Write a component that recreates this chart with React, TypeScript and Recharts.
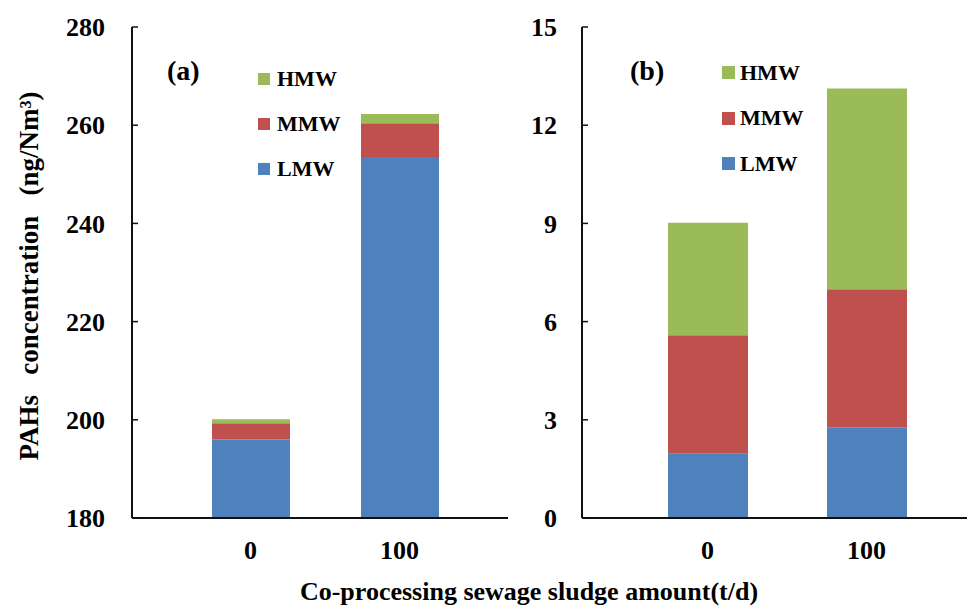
import React from 'react';
import { BarChart, Bar, XAxis, YAxis, Legend } from 'recharts';

const categories = ['0', '100'];
const lmwA = [196.0, 253.5];
const mmwA = [3.3, 6.9];
const hmwA = [0.8, 1.9];
const lmwB = [1.96, 2.77];
const mmwB = [3.62, 4.22];
const hmwB = [3.44, 6.13];
const ticksA = [180, 200, 220, 240, 260, 280];
const ticksB = [0, 3, 6, 9, 12, 15];
const seriesNames = ['LMW', 'MMW', 'HMW'];
const legendOrder = ['HMW', 'MMW', 'LMW'];
const colors = ['#4F81BD', '#C0504D', '#9BBB59'];

const FONT = "'Times New Roman', 'Liberation Serif', Tinos, 'DejaVu Serif', serif";

const dataA = categories.map((c, i) => ({ cat: c, LMW: lmwA[i], MMW: mmwA[i], HMW: hmwA[i] }));
const dataB = categories.map((c, i) => ({ cat: c, LMW: lmwB[i], MMW: mmwB[i], HMW: hmwB[i] }));

const tickStyle = { fontSize: 26, fontWeight: 'bold', fill: '#000', fontFamily: FONT };
const axisLineStyle = { stroke: '#111', strokeWidth: 2 };

const makeLegend = (rowH: number, sq: number, gap: number) => (props: any) => {
  const payload = props.payload || [];
  const items = legendOrder.map((n) => payload.find((p: any) => p.value === n)).filter(Boolean);
  return (
    <div>
      {items.map((it: any) => (
        <div key={it.value} style={{ height: rowH, display: 'flex', alignItems: 'center' }}>
          <span style={{ width: sq, height: sq, background: it.color, marginRight: gap, display: 'inline-block' }} />
          <span style={{ fontFamily: FONT, fontWeight: 'bold', fontSize: 22, color: '#000', lineHeight: '24px' }}>{it.value}</span>
        </div>
      ))}
    </div>
  );
};

function Panel(props: {
  data: any[];
  width: number;
  margin: any;
  yWidth: number;
  domain: [number, number];
  ticks: number[];
  tickMargin: number;
  padding: { left: number; right: number };
  barSize: number;
  legendPos: { left: number; top: number };
  legendRow: number;
  legendSq: number;
  legendGap: number;
  yLabel?: boolean;
}) {
  return (
    <BarChart width={props.width} height={608} data={props.data} margin={props.margin} barCategoryGap={0}>
      <XAxis
        dataKey="cat"
        xAxisId="main"
        height={90}
        padding={props.padding}
        tickLine={false}
        tickSize={0}
        tickMargin={23}
        axisLine={axisLineStyle}
        tick={tickStyle}
        interval={0}
      />
      <XAxis dataKey="cat" xAxisId="top" orientation="top" height={0} tick={false} tickLine={false} axisLine={axisLineStyle} padding={props.padding} />
      <YAxis
        yAxisId="main"
        width={props.yWidth}
        type="number"
        domain={props.domain}
        ticks={props.ticks}
        interval={0}
        allowDataOverflow
        tickSize={-6}
        tickMargin={props.tickMargin}
        tickLine={{ stroke: '#111', strokeWidth: 1.5 }}
        axisLine={axisLineStyle}
        tick={tickStyle}
        label={
          props.yLabel
            ? {
                value: 'PAHs\u00A0\u00A0\u00A0concentration\u00A0\u00A0\u00A0(ng/Nm\u00B3)',
                angle: -90,
                position: { x: 38, y: 249 },
                style: { textAnchor: 'middle', fontSize: 27, fontWeight: 'bold', fill: '#000', fontFamily: FONT },
              }
            : undefined
        }
      />
      <YAxis yAxisId="right" orientation="right" width={0} type="number" domain={props.domain} allowDataOverflow tick={false} tickLine={false} axisLine={axisLineStyle} />
      <Legend
        layout="vertical"
        align="center"
        verticalAlign="middle"
        wrapperStyle={{ left: props.legendPos.left, top: props.legendPos.top, width: 'auto', height: 'auto' }}
        content={makeLegend(props.legendRow, props.legendSq, props.legendGap)}
      />
      {seriesNames.map((s, i) => (
        <Bar
          key={s}
          dataKey={s}
          name={s}
          stackId="s"
          xAxisId="main"
          yAxisId="main"
          fill={colors[i]}
          barSize={props.barSize}
          isAnimationActive={false}
        />
      ))}
    </BarChart>
  );
}

export default function App() {
  return (
    <div style={{ position: 'absolute', left: 0, top: 0, width: 967, height: 608, overflow: 'hidden', background: '#fff' }}>
      <div style={{ position: 'absolute', left: 0, top: 0 }}>
        <Panel
          data={dataA}
          width={520}
          margin={{ top: 27, right: 12, bottom: 0, left: 0 }}
          yWidth={132}
          domain={[180, 280]}
          ticks={ticksA}
          tickMargin={33}
          padding={{ left: 44, right: 34 }}
          barSize={78}
          legendPos={{ left: 258, top: 56 }}
          legendRow={45}
          legendSq={12}
          legendGap={7}
          yLabel
        />
      </div>
      <div style={{ position: 'absolute', left: 520, top: 0 }}>
        <Panel
          data={dataB}
          width={470}
          margin={{ top: 27, right: 15, bottom: 0, left: 0 }}
          yWidth={62}
          domain={[0, 15]}
          ticks={ticksB}
          tickMargin={31}
          padding={{ left: 46, right: 29 }}
          barSize={80}
          legendPos={{ left: 202, top: 50 }}
          legendRow={45.5}
          legendSq={13}
          legendGap={5}
        />
      </div>
      <div style={{ position: 'absolute', left: 167, top: 57, fontFamily: FONT, fontWeight: 'bold', fontSize: 28, lineHeight: '28px', color: '#000' }}>(a)</div>
      <div style={{ position: 'absolute', left: 630, top: 57, fontFamily: FONT, fontWeight: 'bold', fontSize: 28, lineHeight: '28px', color: '#000' }}>(b)</div>
      <div
        style={{
          position: 'absolute',
          left: 229,
          width: 600,
          top: 579,
          textAlign: 'center',
          fontFamily: FONT,
          fontWeight: 'bold',
          fontSize: 26,
          lineHeight: '26px',
          color: '#000',
          whiteSpace: 'nowrap',
        }}
      >
        Co-processing sewage sludge amount(t/d)
      </div>
    </div>
  );
}
